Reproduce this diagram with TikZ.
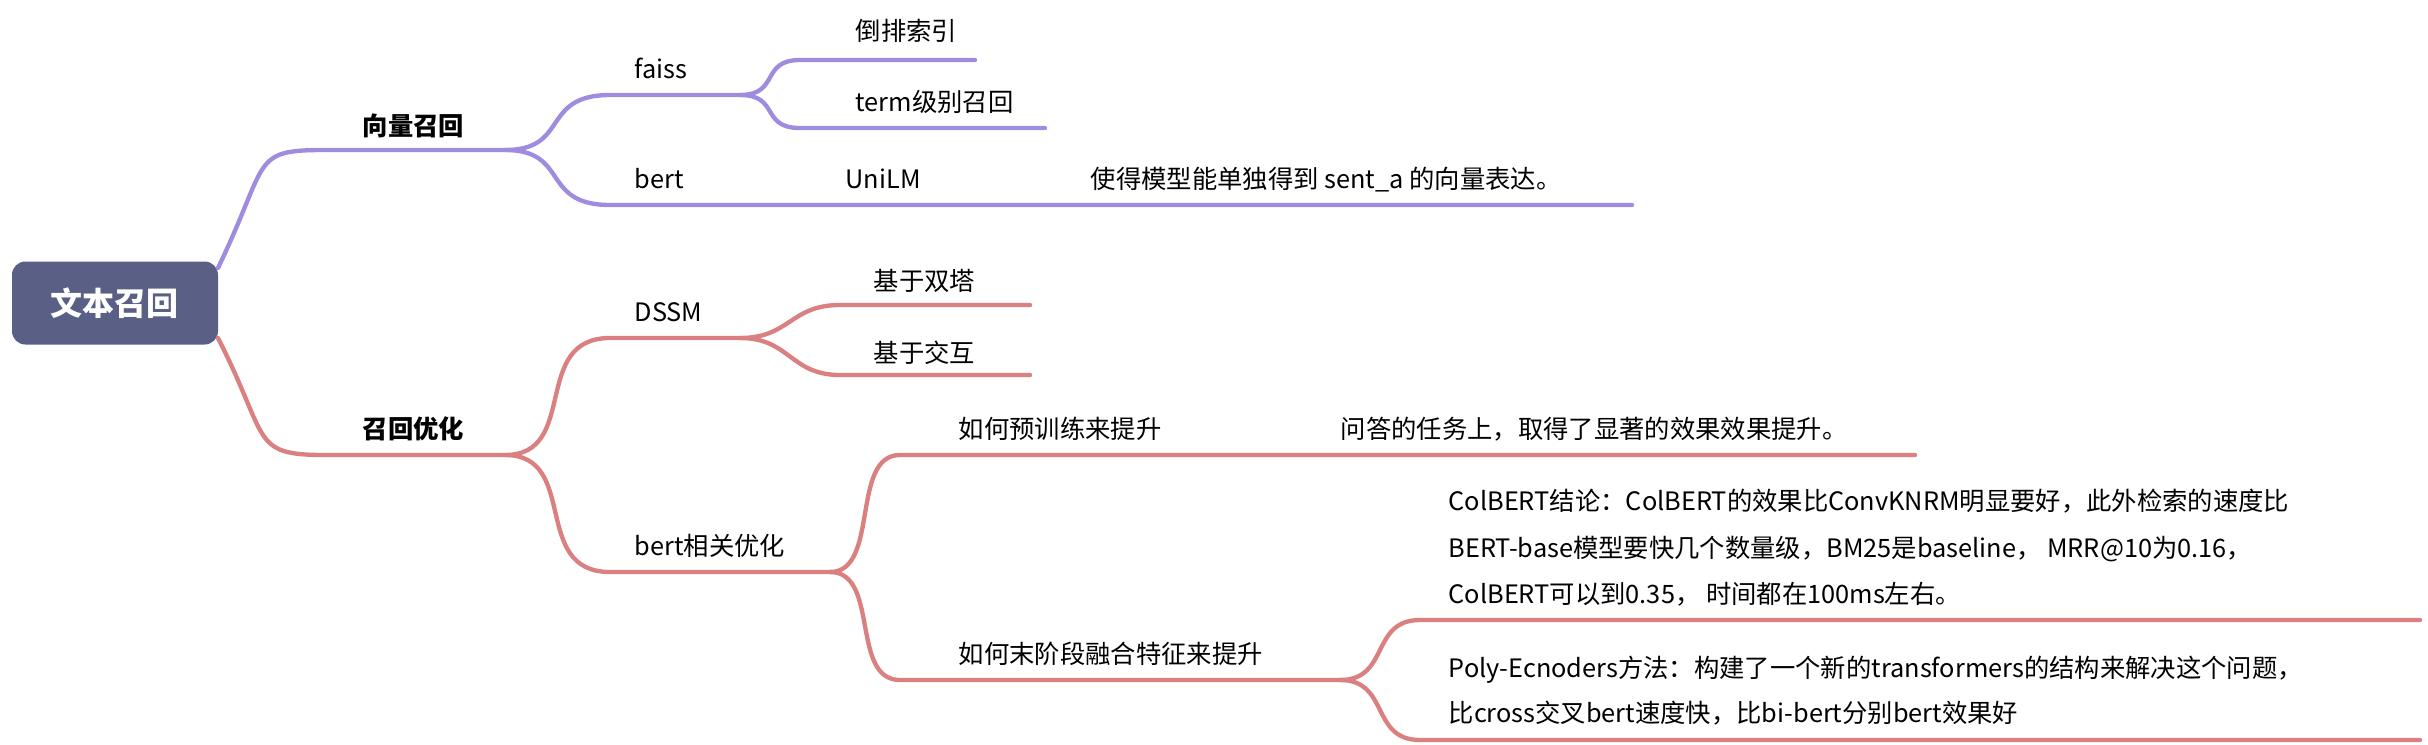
\documentclass[tikz,border=0pt]{standalone}
\usepackage{fontspec}
\setmainfont{Noto Sans CJK SC}
\begin{document}
\begin{tikzpicture}[x=0.3pt,y=-0.3pt,
  pu/.style={draw=purple!40!blue!45!white, line width=1.3pt, line cap=round},
  rd/.style={draw=red!45!gray!70!white, line width=1.3pt, line cap=round},
  lbl/.style={anchor=base west, inner sep=0pt, font=\fontsize{7.6}{9}\selectfont},
  blbl/.style={lbl, font=\fontsize{7.6}{9}\selectfont\bfseries}]
\useasboundingbox (0,0) rectangle (2428,744);
\colorlet{pu}{purple!40!blue!45!white}
\tikzset{pu/.style={draw={rgb,255:red,160;green,140;blue,222}, line width=1.3pt, line cap=round},
 rd/.style={draw={rgb,255:red,218;green,128;blue,128}, line width=1.3pt, line cap=round}}
\node[fill={rgb,255:red,90;green,96;blue,133}, rounded corners=4pt, minimum width=206*0.3pt, minimum height=83*0.3pt, text=white, font=\fontsize{9.6}{11}\selectfont\bfseries] (root) at (115,303) {文本召回};
% coordinates
\coordinate (r1) at (218,268); \coordinate (r2) at (218,338);
\coordinate (a0) at (325,150); \coordinate (a1) at (505,150);
\coordinate (f0) at (610,95); \coordinate (f1) at (740,95);
\coordinate (i0) at (800,60); \coordinate (i1) at (975,60);
\coordinate (t0) at (800,128); \coordinate (t1) at (1045,128);
\coordinate (b0) at (610,205); \coordinate (b1) at (1632,205);
\coordinate (c0) at (325,455); \coordinate (c1) at (505,455);
\coordinate (d0) at (610,338); \coordinate (d1) at (740,338);
\coordinate (s0) at (840,305); \coordinate (s1) at (1030,305);
\coordinate (x0) at (840,375); \coordinate (x1) at (1030,375);
\coordinate (o0) at (610,572); \coordinate (o1) at (830,572);
\coordinate (p0) at (900,455); \coordinate (p1) at (1915,455);
\coordinate (m0) at (900,680); \coordinate (m1) at (1340,680);
\coordinate (k0) at (1420,620); \coordinate (k1) at (2420,620);
\coordinate (q0) at (1420,740); \coordinate (q1) at (2420,740);
% purple branch
\draw[pu] (r1) .. controls (270,160) and (250,150) .. (a0) -- (a1);
\draw[pu] (a1) .. controls (570,150) and (540,95) .. (f0) -- (f1);
\draw[pu] (a1) .. controls (570,150) and (540,205) .. (b0) -- (b1);
\draw[pu] (f1) .. controls (780,95) and (760,60) .. (i0) -- (i1);
\draw[pu] (f1) .. controls (780,95) and (760,128) .. (t0) -- (t1);
% red branch
\draw[rd] (r2) .. controls (270,440) and (250,455) .. (c0) -- (c1);
\draw[rd] (c1) .. controls (580,455) and (530,338) .. (d0) -- (d1);
\draw[rd] (c1) .. controls (580,455) and (530,572) .. (o0) -- (o1);
\draw[rd] (d1) .. controls (790,338) and (790,305) .. (s0) -- (s1);
\draw[rd] (d1) .. controls (790,338) and (790,375) .. (x0) -- (x1);
\draw[rd] (o1) .. controls (880,572) and (850,455) .. (p0) -- (p1);
\draw[rd] (o1) .. controls (880,572) and (850,680) .. (m0) -- (m1);
\draw[rd] (m1) .. controls (1390,680) and (1370,620) .. (k0) -- (k1);
\draw[rd] (m1) .. controls (1390,680) and (1370,740) .. (q0) -- (q1);
% labels
\node[blbl] (la) at (362,135) {向量召回};
\node[lbl] (lf) at (634,78) {faiss};
\node[lbl] (li) at (855,40) {倒排索引};
\node[lbl] (lt) at (855,111) {term级别召回};
\node[lbl] (lb) at (634,188) {bert};
\node[lbl] (lu) at (845,188) {UniLM};
\node[lbl] (lu2) at (1090,188) {使得模型能单独得到 sent\_a 的向量表达。};
\node[blbl] (lc) at (362,438) {召回优化};
\node[lbl] (ld) at (634,321) {DSSM};
\node[lbl] (ls) at (873,290) {基于双塔};
\node[lbl] (lx) at (873,362) {基于交互};
\node[lbl] (lo) at (634,555) {bert相关优化};
\node[lbl] (lp) at (958,438) {如何预训练来提升};
\node[lbl] (lp2) at (1340,438) {问答的任务上，取得了显著的效果效果提升。};
\node[lbl] (lm) at (958,663) {如何末阶段融合特征来提升};
\node[lbl] (k1t) at (1448,510) {ColBERT结论：ColBERT的效果比ConvKNRM明显要好，此外检索的速度比};
\node[lbl] (k2t) at (1448,557) {BERT-base模型要快几个数量级，BM25是baseline， MRR@10为0.16，};
\node[lbl] (k3t) at (1448,603) {ColBERT可以到0.35， 时间都在100ms左右。};
\node[lbl] (q1t) at (1448,677) {Poly-Ecnoders方法：构建了一个新的transformers的结构来解决这个问题，};
\node[lbl] (q2t) at (1448,722) {比cross交叉bert速度快，比bi-bert分别bert效果好};
\end{tikzpicture}
\end{document}
